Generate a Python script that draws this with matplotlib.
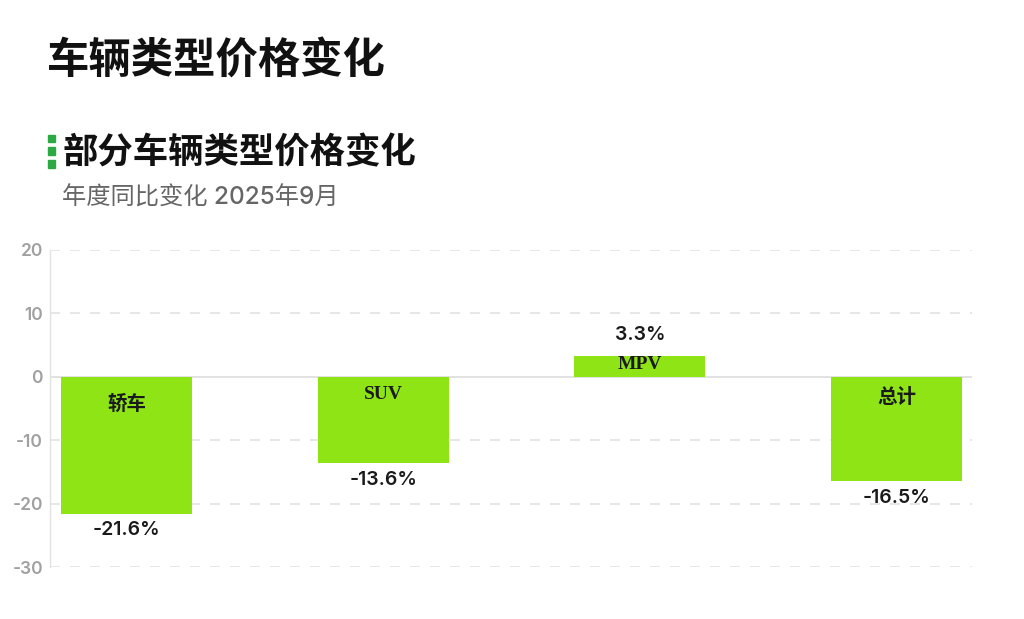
import matplotlib
matplotlib.use("Agg")
import matplotlib.pyplot as plt
from matplotlib.patches import Rectangle

categories = ["轿车", "SUV", "MPV", "总计"]
values = [-21.6, -13.6, 3.3, -16.5]
yticks = [20, 10, 0, -10, -20, -30]

title = "车辆类型价格变化"
subtitle = "部分车辆类型价格变化"
note = "年度同比变化 2025年9月"

plt.rcParams['font.family'] = ['Noto Sans CJK SC', 'DejaVu Sans']

fig = plt.figure(figsize=(10.24, 6.19), dpi=100)
fig.patch.set_facecolor("white")

W, H = 1024, 619
def fx(px): return px / W
def fy(py): return 1 - py / H

fig.text(fx(47), fy(62), title, fontsize=30.5, fontweight="bold", color="#111111",
         va="center", ha="left")
# green dotted marker
for y0, y1 in [(135, 142), (147, 155), (160, 168)]:
    fig.patches.append(Rectangle((fx(48), fy(y1)), fx(7), (y1 - y0) / H,
                                 transform=fig.transFigure, color="#2BAA44", zorder=5))
fig.text(fx(62), fy(153), subtitle, fontsize=25.5, fontweight="bold", color="#111111",
         va="center", ha="left")
fig.text(fx(62), fy(198), note, fontsize=17.5, color="#666666", va="center", ha="left",
         family=["Inter", "Noto Sans CJK SC"], fontweight="medium")

ax = fig.add_axes([fx(50), fy(567), fx(972) - fx(50), (567 - 250) / H])
x = list(range(len(categories)))
ax.bar(x, values, width=0.51, color="#8EE414", zorder=3)
ax.set_xlim(-0.298, 3.294)
ax.set_ylim(-30, 20)
ax.set_yticks(yticks)
ax.set_yticklabels([str(t) for t in yticks], family=["Inter", "DejaVu Sans"],
                   fontweight="semibold")
ax.tick_params(axis="y", length=0, pad=5, labelsize=12.5, labelcolor="#a0a0a0")
ax.set_xticks([])
for s in ["top", "right", "bottom"]:
    ax.spines[s].set_visible(False)
ax.spines["left"].set_color("#e2e2e2")
ax.spines["left"].set_linewidth(1)
for t in yticks:
    if t == 0:
        ax.axhline(0, color="#dddddd", lw=1.2, zorder=2)
    else:
        ax.axhline(t, color="#e3e3e3", lw=1.2, ls=(0, (6, 6)), zorder=1)

for xi, v, c in zip(x, values, categories):
    if v < 0:
        ax.text(xi, v * 0.2, c, ha="center", va="center", fontsize=14, fontweight="bold",
                family=["Liberation Serif", "Noto Sans CJK SC"], color="#1a1a1a", zorder=4)
        ax.annotate(f"{v}%", (xi, v), xytext=(0, -12), textcoords="offset points",
                    ha="center", va="center", fontsize=14, fontweight="semibold",
                    color="#1a1a1a", family=["Inter", "DejaVu Sans"])
    else:
        ax.text(xi, v * 0.6, c, ha="center", va="center", fontsize=14, fontweight="bold",
                family=["Liberation Serif", "Noto Sans CJK SC"], color="#1a1a1a", zorder=4)
        ax.annotate(f"{v}%", (xi, v), xytext=(0, 15), textcoords="offset points",
                    ha="center", va="center", fontsize=14, fontweight="semibold",
                    color="#1a1a1a", family=["Inter", "DejaVu Sans"])

fig.savefig("out.png", dpi=100, facecolor="white")
